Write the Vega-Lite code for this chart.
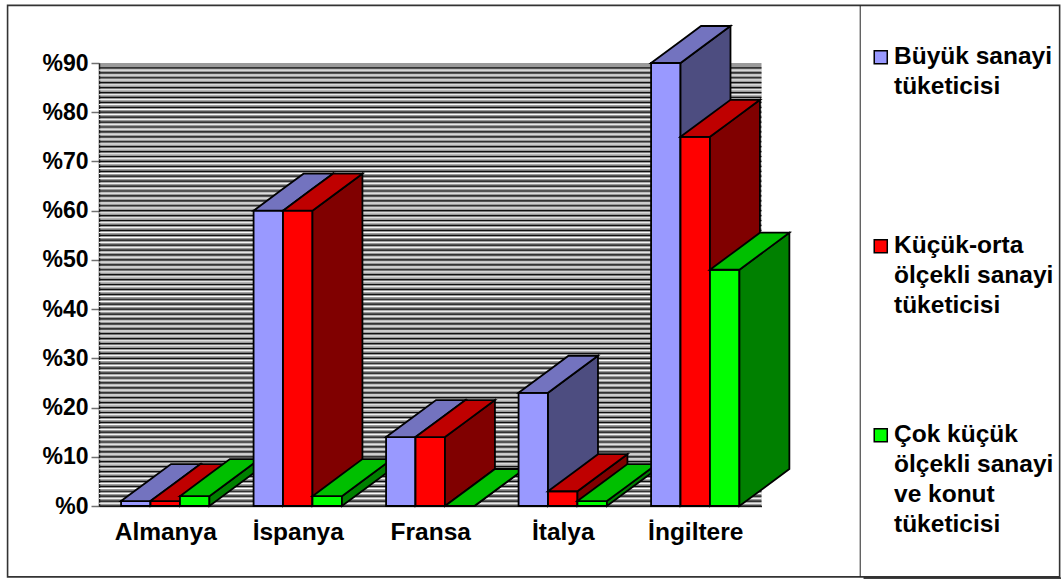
{
  "$schema": "https://vega.github.io/schema/vega-lite/v6.json",
  "width": 662.5,
  "height": 443,
  "autosize": "none",
  "padding": {"left": 99, "top": 63, "right": 299.5, "bottom": 73},
  "background": "white",
  "view": {"fill": "#9a9a9a", "stroke": null},
  "config": {"font": "Liberation Sans"},
  "resolve": {"axis": {"x": "independent", "y": "independent"}},
  "datasets": {
    "consumption": [
      {"country": "Almanya", "series": "Büyük sanayi tüketicisi", "value": 1},
      {"country": "Almanya", "series": "Küçük-orta ölçekli sanayi tüketicisi", "value": 1},
      {"country": "Almanya", "series": "Çok küçük ölçekli sanayi ve konut tüketicisi", "value": 2},
      {"country": "İspanya", "series": "Büyük sanayi tüketicisi", "value": 60},
      {"country": "İspanya", "series": "Küçük-orta ölçekli sanayi tüketicisi", "value": 60},
      {"country": "İspanya", "series": "Çok küçük ölçekli sanayi ve konut tüketicisi", "value": 2},
      {"country": "Fransa", "series": "Büyük sanayi tüketicisi", "value": 14},
      {"country": "Fransa", "series": "Küçük-orta ölçekli sanayi tüketicisi", "value": 14},
      {"country": "Fransa", "series": "Çok küçük ölçekli sanayi ve konut tüketicisi", "value": 0},
      {"country": "İtalya", "series": "Büyük sanayi tüketicisi", "value": 23},
      {"country": "İtalya", "series": "Küçük-orta ölçekli sanayi tüketicisi", "value": 3},
      {"country": "İtalya", "series": "Çok küçük ölçekli sanayi ve konut tüketicisi", "value": 1},
      {"country": "İngiltere", "series": "Büyük sanayi tüketicisi", "value": 90},
      {"country": "İngiltere", "series": "Küçük-orta ölçekli sanayi tüketicisi", "value": 75},
      {"country": "İngiltere", "series": "Çok küçük ölçekli sanayi ve konut tüketicisi", "value": 48}
    ],
    "gridLevels": [
      {"level":0},{"level":1},{"level":2},{"level":3},{"level":4},{"level":5},{"level":6},{"level":7},{"level":8},{"level":9},
      {"level":10},{"level":11},{"level":12},{"level":13},{"level":14},{"level":15},{"level":16},{"level":17},{"level":18},{"level":19},
      {"level":20},{"level":21},{"level":22},{"level":23},{"level":24},{"level":25},{"level":26},{"level":27},{"level":28},{"level":29},
      {"level":30},{"level":31},{"level":32},{"level":33},{"level":34},{"level":35},{"level":36},{"level":37},{"level":38},{"level":39},
      {"level":40},{"level":41},{"level":42},{"level":43},{"level":44},{"level":45},{"level":46},{"level":47},{"level":48},{"level":49},
      {"level":50},{"level":51},{"level":52},{"level":53},{"level":54},{"level":55},{"level":56},{"level":57},{"level":58},{"level":59},
      {"level":60},{"level":61},{"level":62},{"level":63},{"level":64},{"level":65},{"level":66},{"level":67},{"level":68},{"level":69},
      {"level":70},{"level":71},{"level":72},{"level":73},{"level":74},{"level":75},{"level":76},{"level":77},{"level":78},{"level":79},
      {"level":80},{"level":81},{"level":82},{"level":83},{"level":84},{"level":85},{"level":86},{"level":87},{"level":88},{"level":89}
    ]
  },
  "layer": [
    {
      "data": {"name": "gridLevels"},
      "mark": {"type": "rule", "color": "#ffffff", "strokeWidth": 1, "yOffset": 2.2},
      "encoding": {
        "y": {"field": "level", "type": "quantitative", "scale": {"domain": [0, 90], "nice": false, "zero": false}, "axis": null}
      }
    },
    {
      "data": {"name": "gridLevels"},
      "mark": {"type": "rule", "color": "#111111", "strokeWidth": 1.2},
      "encoding": {
        "y": {"field": "level", "type": "quantitative", "scale": {"domain": [0, 90], "nice": false, "zero": false}, "axis": null}
      }
    },
    {
      "data": {"name": "consumption"},
      "transform": [
        {"calculate": "indexof(['Almanya','İspanya','Fransa','İtalya','İngiltere'], datum.country)", "as": "group"},
        {"calculate": "indexof(['Büyük sanayi tüketicisi','Küçük-orta ölçekli sanayi tüketicisi','Çok küçük ölçekli sanayi ve konut tüketicisi'], datum.series)", "as": "member"},
        {"calculate": "datum.group + 1/6 + datum.member * 2/9", "as": "x0"},
        {"calculate": "datum.x0 + 2/9", "as": "x1"},
        {"calculate": "[{face:'front',x:datum.x0,lo:0,hi:datum.value},{face:'front',x:datum.x1,lo:0,hi:datum.value},{face:'side',x:datum.x1,lo:0,hi:datum.value},{face:'side',x:datum.x1+0.377,lo:7.52,hi:datum.value+7.52},{face:'top',x:datum.x0,lo:datum.value,hi:datum.value},{face:'top',x:datum.x1,lo:datum.value,hi:datum.value+7.52*(2/9)/0.377},{face:'top',x:datum.x0+0.377,lo:datum.value+7.52*(0.377-2/9)/0.377,hi:datum.value+7.52},{face:'top',x:datum.x1+0.377,lo:datum.value+7.52,hi:datum.value+7.52}]", "as": "p"},
        {"flatten": ["p"]},
        {"calculate": "datum.p.face == 'front' ? datum.series : datum.series + ' ' + datum.p.face", "as": "shade"},
        {"calculate": "datum.country + ' ' + datum.series + ' ' + datum.p.face", "as": "polygon"}
      ],
      "mark": {"type": "area", "stroke": "#000000", "strokeWidth": 1.8, "strokeJoin": "miter", "clip": false, "opacity": 1},
      "encoding": {
        "x": {
          "field": "p.x",
          "type": "quantitative",
          "title": null,
          "scale": {"domain": [0, 5], "nice": false, "zero": false},
          "axis": {
            "orient": "bottom",
            "values": [0.5, 1.5, 2.5, 3.5, 4.5],
            "labelExpr": "['Almanya','İspanya','Fransa','İtalya','İngiltere'][floor(datum.value)]",
            "labelFont": "Liberation Sans",
            "labelFontWeight": "bold",
            "labelFontSize": 24.5,
            "labelColor": "#000000",
            "labelPadding": 14,
            "ticks": false,
            "grid": false,
            "domainColor": "#222222",
            "domainWidth": 1.5
          }
        },
        "y": {
          "field": "p.hi",
          "type": "quantitative",
          "title": null,
          "scale": {"domain": [0, 90], "nice": false, "zero": false},
          "axis": {
            "orient": "left",
            "values": [0, 10, 20, 30, 40, 50, 60, 70, 80, 90],
            "labelExpr": "'%' + datum.value",
            "labelFont": "Liberation Sans",
            "labelFontWeight": "bold",
            "labelFontSize": 23,
            "labelColor": "#000000",
            "labelPadding": 3,
            "tickSize": 8,
            "tickColor": "#707070",
            "tickWidth": 1.5,
            "domainColor": "#222222",
            "domainWidth": 1.5,
            "grid": false
          }
        },
        "y2": {"field": "p.lo"},
        "detail": {"field": "polygon"},
        "color": {
          "field": "shade",
          "type": "nominal",
          "scale": {
            "domain": [
              "Büyük sanayi tüketicisi", "Küçük-orta ölçekli sanayi tüketicisi", "Çok küçük ölçekli sanayi ve konut tüketicisi",
              "Büyük sanayi tüketicisi top", "Küçük-orta ölçekli sanayi tüketicisi top", "Çok küçük ölçekli sanayi ve konut tüketicisi top",
              "Büyük sanayi tüketicisi side", "Küçük-orta ölçekli sanayi tüketicisi side", "Çok küçük ölçekli sanayi ve konut tüketicisi side"
            ],
            "range": ["#9999ff", "#ff0000", "#00ff00", "#7373bf", "#bf0000", "#00bf00", "#4d4d80", "#800000", "#008000"]
          },
          "legend": {
            "title": null,
            "orient": "none",
            "legendX": 769.5,
            "legendY": -18,
            "padding": 0,
            "values": ["Büyük sanayi tüketicisi", "Küçük-orta ölçekli sanayi tüketicisi", "Çok küçük ölçekli sanayi ve konut tüketicisi"],
            "labelExpr": "datum.label == 'Büyük sanayi tüketicisi' ? ['Büyük sanayi','tüketicisi','',''] : datum.label == 'Küçük-orta ölçekli sanayi tüketicisi' ? ['Küçük-orta','ölçekli sanayi','tüketicisi',''] : ['Çok küçük','ölçekli sanayi','ve konut','tüketicisi']",
            "labelFont": "Liberation Sans",
            "labelFontWeight": "bold",
            "labelFontSize": 24.5,
            "labelColor": "#000000",
            "labelLimit": 300,
            "labelOffset": 1,
            "symbolType": "square",
            "symbolSize": 170,
            "symbolStrokeColor": "#000000",
            "symbolStrokeWidth": 1.5,
            "rowPadding": 74,
            "encoding": {"labels": {"lineHeight": {"value": 30}}}
          }
        }
      }
    },
    {
      "data": {"values": [{"frame": "outer"}]},
      "mark": {"type": "rect", "fill": null, "stroke": "#333333", "strokeWidth": 1.6, "clip": false},
      "encoding": {
        "x": {"datum": -0.69, "scale": {"domain": [0, 5], "nice": false, "zero": false}, "axis": null},
        "x2": {"datum": 7.25},
        "y": {"datum": -14.4, "scale": {"domain": [0, 90], "nice": false, "zero": false}, "axis": null},
        "y2": {"datum": 101.7}
      }
    },
    {
      "data": {"values": [{"frame": "legend"}]},
      "mark": {"type": "rule", "stroke": "#222222", "strokeWidth": 1, "clip": false},
      "encoding": {
        "x": {"datum": 5.745, "scale": {"domain": [0, 5], "nice": false, "zero": false}, "axis": null},
        "y": {"datum": -14.4, "scale": {"domain": [0, 90], "nice": false, "zero": false}, "axis": null},
        "y2": {"datum": 101.7}
      }
    },
    {
      "data": {"values": [{"frame": "legendBase"}]},
      "mark": {"type": "rule", "stroke": "#000000", "strokeWidth": 1.2, "clip": false},
      "encoding": {
        "x": {"datum": 5.77, "scale": {"domain": [0, 5], "nice": false, "zero": false}, "axis": null},
        "x2": {"datum": 7.27},
        "y": {"datum": -14.65, "scale": {"domain": [0, 90], "nice": false, "zero": false}, "axis": null}
      }
    }
  ]
}
